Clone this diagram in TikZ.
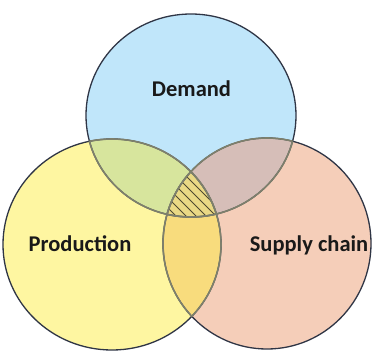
\documentclass[tikz,border=0pt]{standalone}
\usepackage{fontspec}
\setmainfont{Carlito}
\usepackage{tikz}
\definecolor{demandcol}{HTML}{C0E6FA}
\definecolor{prodcol}{HTML}{FEF6A1}
\definecolor{supplycol}{HTML}{F5CEB9}
\definecolor{pdcol}{HTML}{D7E59D}
\definecolor{dscol}{HTML}{D6BEB8}
\definecolor{pscol}{HTML}{F8DC7D}
\definecolor{allcol}{HTML}{EAD985}
\definecolor{edgecol}{HTML}{2F3545}
\definecolor{innercol}{HTML}{7E806C}
\definecolor{hatchcol}{HTML}{4F4A30}
\tikzstyle{outline} = [draw=edgecol, line width=1.3pt]
\tikzstyle{innerline} = [draw=innercol, line width=1.6pt]
\tikzstyle{hatch} = [draw=hatchcol, line width=0.8pt]
\tikzstyle{setname} = [font=\bfseries\fontsize{22.5}{27}\selectfont, text=black!90, anchor=base, inner sep=0pt]
% the three sets
\newcommand{\demandset}{(191,115.5) ellipse [x radius=105, y radius=101.5]}
\newcommand{\prodset}{(112,244.5) ellipse [x radius=109, y radius=105.5]}
\newcommand{\supplyset}{(267,243.5) ellipse [x radius=104, y radius=105.5]}
\begin{document}
\begin{tikzpicture}[x=1pt, y=-1pt]
        \useasboundingbox [fill=white] (0,0) rectangle (372,352);

        \fill [demandcol] \demandset;
        \fill [prodcol] \prodset;
        \fill [supplycol] \supplyset;

        % overlaps
        \begin{scope}
            \clip \demandset;
            \fill [pdcol] \prodset;
            \fill [dscol] \supplyset;
        \end{scope}
        \begin{scope}
            \clip \prodset;
            \fill [pscol] \supplyset;
        \end{scope}
        \begin{scope}
            \clip \demandset;
            \clip \prodset;
            \clip \supplyset;
            \fill [allcol] (150,160) rectangle (230,230);
            \foreach \c in {-60,-50,...,50}
                \draw [hatch] (150+\c,150) -- ++(90,90);
        \end{scope}

        \draw [outline] \demandset;
        \draw [outline] \prodset;
        \draw [outline] \supplyset;

        % arcs inside the other sets are lighter
        \begin{scope}
            \clip \demandset;
            \draw [innerline] \prodset;
            \draw [innerline] \supplyset;
        \end{scope}
        \begin{scope}
            \clip \prodset;
            \draw [innerline] \demandset;
            \draw [innerline] \supplyset;
        \end{scope}
        \begin{scope}
            \clip \supplyset;
            \draw [innerline] \demandset;
            \draw [innerline] \prodset;
        \end{scope}

        \node (demand) [setname] at (191.5,97) {Demand};
        \node (production) [setname] at (80,252) {Production};
        \node (supply) [setname] at (309,252) {Supply chain};
    \end{tikzpicture}
\end{document}
